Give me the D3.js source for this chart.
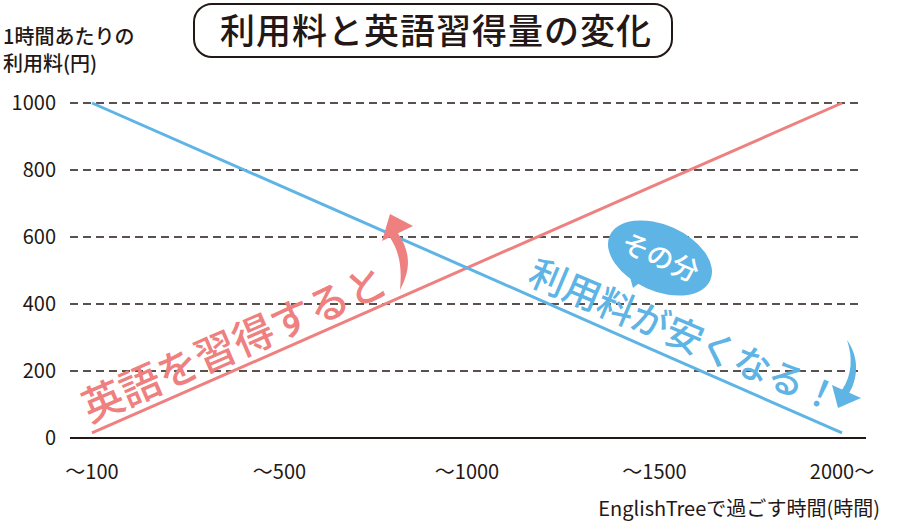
<!DOCTYPE html>
<html>
<head>
<meta charset="utf-8">
<script src="https://cdn.jsdelivr.net/npm/d3@7"></script>
<style>
  body { margin: 0; background: #fff; }
  svg { display: block; }
  text { font-family: "Noto Sans CJK JP", "Noto Sans", sans-serif; }
</style>
</head>
<body>
<svg width="909" height="532"></svg>
<script>
// data
const categories = ["～100", "～500", "～1000", "～1500", "2000～"];
const fee = [1000, 754, 508, 261, 15];        // 利用料 (blue)
const mastery = [15, 261, 508, 754, 1000];    // 英語習得量 (red)
const yTicks = [0, 200, 400, 600, 800, 1000];

const blue = "#5db4e5";
const red = "#ee8080";
const ink = "#231815";

let svg = d3.select("svg");

let x = d3.scalePoint().domain(categories).range([92, 842]);
let y = d3.scaleLinear().domain([0, 1000]).range([438, 103]);

// grid
svg.append("g")
    .selectAll("line")
    .data(yTicks.filter(d => d > 0))
    .enter().append("line")
    .attr("x1", 70).attr("x2", 862)
    .attr("y1", d => y(d)).attr("y2", d => y(d))
    .attr("stroke", ink)
    .attr("stroke-width", 1.3)
    .attr("stroke-dasharray", "8,5");

// base line
svg.append("line")
    .attr("x1", 70).attr("x2", 866)
    .attr("y1", y(0)).attr("y2", y(0))
    .attr("stroke", ink).attr("stroke-width", 2);

// y tick labels
svg.append("g")
    .selectAll("text")
    .data(yTicks)
    .enter().append("text")
    .attr("x", 56)
    .attr("y", d => y(d) + 7)
    .attr("text-anchor", "end")
    .attr("font-size", 20)
    .attr("fill", ink)
    .text(d => d);

// x tick labels
svg.append("g")
    .selectAll("text")
    .data(categories)
    .enter().append("text")
    .attr("x", d => x(d))
    .attr("y", 479)
    .attr("text-anchor", "middle")
    .attr("font-size", 20)
    .attr("fill", ink)
    .text(d => d);

// lines
let line = d3.line().x((d, i) => x(categories[i])).y(d => y(d));

svg.append("path").datum(mastery)
    .attr("d", line).attr("fill", "none")
    .attr("stroke", red).attr("stroke-width", 3);

svg.append("path").datum(fee)
    .attr("d", line).attr("fill", "none")
    .attr("stroke", blue).attr("stroke-width", 3);

// title
svg.append("rect")
    .attr("x", 194).attr("y", 4)
    .attr("width", 478).attr("height", 53)
    .attr("rx", 18)
    .attr("fill", "#fff").attr("stroke", ink).attr("stroke-width", 2);
svg.append("text")
    .attr("x", 436).attr("y", 44)
    .attr("text-anchor", "middle")
    .attr("font-size", 35).attr("font-weight", 500)
    .attr("letter-spacing", 1)
    .attr("fill", ink)
    .text("利用料と英語習得量の変化");

// y axis label
svg.append("text")
    .attr("x", 3).attr("y", 44)
    .attr("font-size", 20).attr("font-weight", 500).attr("fill", ink)
    .text("1時間あたりの");
svg.append("text")
    .attr("x", 3).attr("y", 71)
    .attr("font-size", 20).attr("font-weight", 500).attr("fill", ink)
    .text("利用料(円)");

// x axis label
svg.append("text")
    .attr("x", 880).attr("y", 516)
    .attr("text-anchor", "end")
    .attr("font-size", 20).attr("fill", ink)
    .text("EnglishTreeで過ごす時間(時間)");

// red annotation
svg.append("text")
    .attr("transform", "translate(90,423) rotate(-23.5)")
    .attr("font-size", 41).attr("font-weight", 500)
    .attr("fill", red)
    .text("英語を習得すると");

svg.append("path")
    .attr("d", "M400,290 C412,268 410,250 397,232 L389,236 C400,252 402,268 400,290 Z")
    .attr("fill", red);
svg.append("path")
    .attr("d", "M390,214 L382,241 L413,226 Z")
    .attr("fill", red);

// blue annotation
svg.append("text")
    .attr("transform", "translate(526,283) rotate(23)")
    .attr("font-size", 37).attr("font-weight", 500)
    .attr("fill", blue)
    .text("利用料が安くなる！");

svg.append("path")
    .attr("d", "M847,340 C860,358 858,380 848,395 L842,390 C852,375 853,358 847,340 Z")
    .attr("fill", blue);
svg.append("path")
    .attr("d", "M832,385 L838,408 L861,398 Z")
    .attr("fill", blue);

// bubble
let bubble = svg.append("g").attr("transform", "translate(660,258) rotate(24)");
bubble.append("ellipse")
    .attr("rx", 55).attr("ry", 33)
    .attr("fill", blue);
svg.append("path")
    .attr("d", "M628,270 L633,288 L648,276 Z")
    .attr("fill", blue);
bubble.append("text")
    .attr("x", 0).attr("y", 9)
    .attr("text-anchor", "middle")
    .attr("font-size", 27).attr("font-weight", 500)
    .attr("fill", "#fff")
    .text("その分");
</script>
</body>
</html>
